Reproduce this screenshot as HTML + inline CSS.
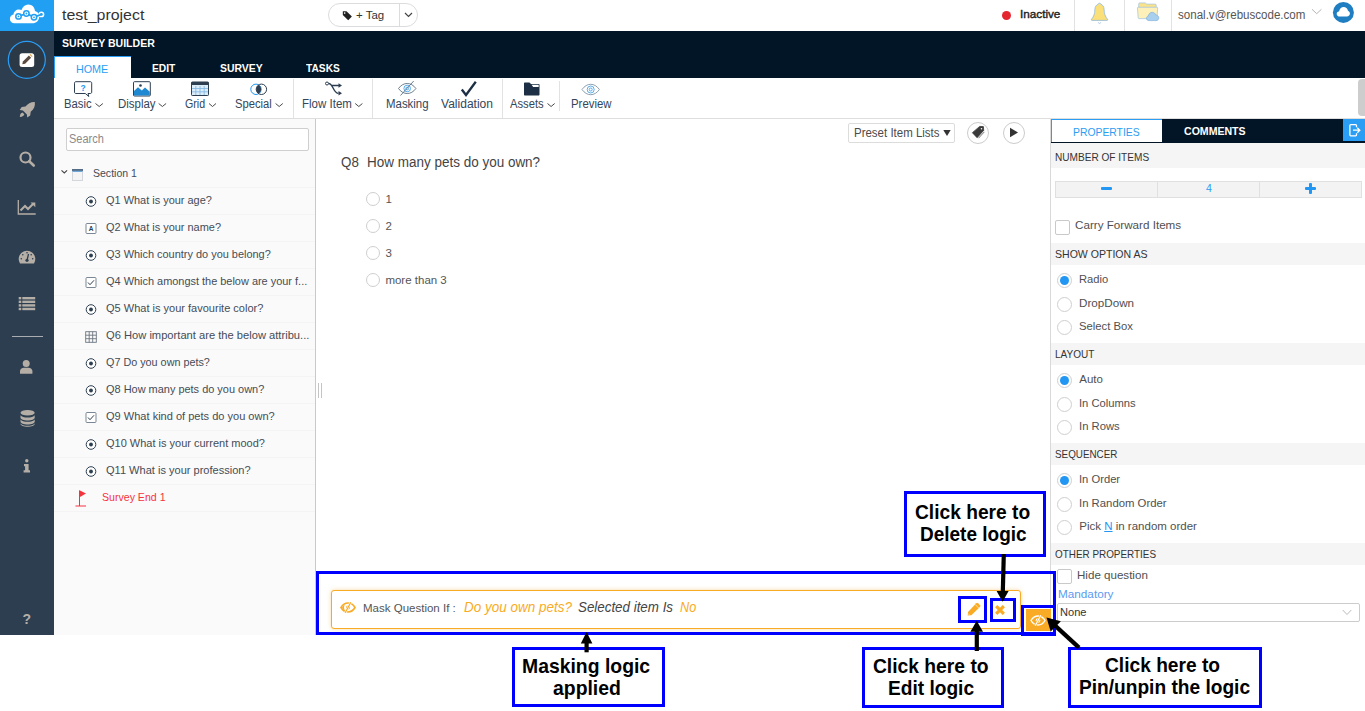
<!DOCTYPE html>
<html lang="en">
<head>
<meta charset="utf-8">
<title>Survey Builder</title>
<style>
*{box-sizing:border-box;margin:0;padding:0}
html,body{width:1365px;height:711px;overflow:hidden;background:#fff}
body{position:relative;font-family:"Liberation Sans",sans-serif;color:#333;font-size:12px}
.abs{position:absolute}
svg{position:absolute;overflow:visible}
.t{position:absolute;white-space:nowrap;line-height:1;transform-origin:0 0}
#logo{left:0;top:0;width:54px;height:31px;background:#21a0f3}
#side{left:0;top:31px;width:54px;height:604px;background:#2c3e50}
#dark{left:54px;top:31px;width:1311px;height:47px;background:#021526}
#tool{left:54px;top:78px;width:1311px;height:41px;background:#fff;border-bottom:1px solid #dedede}
#left{left:54px;top:119px;width:262px;height:516px;background:#fafafa;border-right:1px solid #c9c9c9}
#right{left:1050px;top:119px;width:315px;height:516px;background:#fff;border-left:1px solid #d9d9d9}
.sec{position:absolute;left:1051px;width:314px;height:22px;background:#f5f5f5}
.rad{position:absolute;width:15px;height:15px;border:1px solid #cfcfcf;border-radius:50%;background:#fff}
.rad.on::after{content:"";position:absolute;left:1.8px;top:1.8px;width:9.4px;height:9.4px;border-radius:50%;background:#2196f3}
.chk{position:absolute;width:15px;height:15px;border:1px solid #c9c9c9;border-radius:2px;background:#fff}
.rowl{position:absolute;left:54px;width:261px;height:1px;background:#f4f4f4}
.ann{position:absolute;border:3px solid #0000ff;background:#fff}
.box{position:absolute;border:3px solid #0000ff}
.vsep{position:absolute;width:1px;background:#e2e2e2}
</style>
</head>
<body>
<div id="logo" class="abs"></div>
<div id="side" class="abs"></div>
<div id="dark" class="abs"></div>
<div id="tool" class="abs"></div>
<div id="left" class="abs"></div>
<div id="right" class="abs"></div>

<!-- LOGO -->
<svg style="left:0;top:0" width="54" height="31" viewBox="0 0 54 31">
<path d="M14.500 23.200c-2.700 0-4.600-1.900-4.600-4.300 0-2.200 1.500-3.900 3.600-4.300.3-3.200 2.600-5.200 5.600-5.200.9 0 1.700.2 2.400.6 1.200-3 3.600-5.400 6.800-5.400 3.700 0 6.400 2.800 6.700 6.500 2.400.5 4.200 2.600 4.200 5.200 0 3.900-2.600 6.900-5.800 6.900z" fill="#fff"/>
<path d="M36 16.600l5.400-2.200" stroke="#fff" stroke-width="2.600" fill="none"/>
<circle cx="41.400" cy="14.400" r="2.900" fill="#fff"/>
<path d="M18.500 16.400l8-2.900 7.500 3.800 7.400-2.900" fill="none" stroke="#21a0f3" stroke-width="1.700" stroke-linejoin="round"/>
<circle cx="18.500" cy="16.400" r="2.700" fill="#fff" stroke="#21a0f3" stroke-width="1.500"/><circle cx="18.500" cy="16.400" r=".9" fill="#21a0f3"/>
<circle cx="26.400" cy="13.500" r="2.700" fill="#fff" stroke="#21a0f3" stroke-width="1.500"/><circle cx="26.400" cy="13.500" r=".9" fill="#21a0f3"/>
<circle cx="34" cy="17.300" r="2.700" fill="#fff" stroke="#21a0f3" stroke-width="1.500"/><circle cx="34" cy="17.300" r=".9" fill="#21a0f3"/>
<circle cx="41.400" cy="14.400" r="1.400" fill="#21a0f3"/>
</svg>

<!-- SIDEBAR ICONS -->
<svg style="left:0;top:31px" width="54" height="604" viewBox="0 31 54 604">
<g fill="#b5aea6">
<circle cx="26.800" cy="59.800" r="18.500" fill="#2b3846" stroke="#2a9df4" stroke-width="1.200"/>
<rect x="19.600" y="53.200" width="14.600" height="13.800" rx="2.500" fill="#fff"/>
<path d="M22.300 64.300l.6-2.800 6-6 2.200 2.200-6 6z" fill="#5a4a42"/><path d="M29.600 54.800l.8-.8 2.200 2.200-.8.800z" fill="#e8a33d"/>
<!-- rocket -->
<path d="M34.800 102c-3.500-.3-7 1.300-9.300 4.600l-3.800.5-2 3 3.200.3 4 4 .3 3.200 3-2 .5-3.800c3.300-2.300 4.700-6 4.100-9.800zM22.500 112.500c-1.500.3-2.500 1.500-2.700 4.500 3-.2 4.200-1.200 4.500-2.700z"/>
<!-- search -->
<circle cx="25.500" cy="157.500" r="5" fill="none" stroke="#b5aea6" stroke-width="2.200"/><path d="M29.200 161.200l4.500 4.300" stroke="#b5aea6" stroke-width="2.600" stroke-linecap="round"/>
<!-- chart -->
<path d="M18.300 200v14h17.400" fill="none" stroke="#b5aea6" stroke-width="1.300"/><path d="M20.500 210.500l4.500-4.500 3 3 5-5" fill="none" stroke="#b5aea6" stroke-width="2"/><path d="M30.500 202.500h4.800v4.800z"/>
<!-- tachometer -->
<path d="M20 263.500a8.300 8.300 0 1 1 14 0z"/>
<path d="M27 260.500l1.500-6.500" stroke="#2c3e50" stroke-width="1.300"/><circle cx="27" cy="260.300" r="1.600" fill="#2c3e50"/>
<g fill="#2c3e50"><circle cx="21.300" cy="258.800" r=".8"/><circle cx="22.800" cy="254.800" r=".8"/><circle cx="32.700" cy="258.800" r=".8"/><circle cx="31.200" cy="254.800" r=".8"/><circle cx="27" cy="252.800" r=".8"/></g>
<!-- list -->
<g><rect x="18.700" y="297" width="2.600" height="2.400"/><rect x="22.300" y="297" width="12.900" height="2.400"/><rect x="18.700" y="300.600" width="2.600" height="2.400"/><rect x="22.300" y="300.600" width="12.900" height="2.400"/><rect x="18.700" y="304.200" width="2.600" height="2.400"/><rect x="22.300" y="304.200" width="12.900" height="2.400"/><rect x="18.700" y="307.800" width="2.600" height="2.400"/><rect x="22.300" y="307.800" width="12.900" height="2.400"/></g>
<rect x="12" y="336" width="31" height="1" fill="#a9adb1"/>
<!-- user -->
<circle cx="26.200" cy="363.500" r="3.500"/><path d="M20 373.800v-2.500c0-2.300 1.800-3.600 3.800-3.600h4.800c2 0 3.800 1.300 3.800 3.600v2.500z"/>
<!-- database -->
<ellipse cx="27.600" cy="412.800" rx="7.100" ry="2.800"/>
<path d="M20.500 415.300c1 1.500 3.800 2.300 7.100 2.300s6.100-.8 7.100-2.300v2.400c0 1.500-3.200 2.700-7.100 2.700s-7.100-1.200-7.100-2.700zM20.500 419.400c1 1.500 3.800 2.300 7.100 2.300s6.100-.8 7.100-2.300v2.400c0 1.500-3.200 2.700-7.100 2.700s-7.100-1.200-7.100-2.700zM20.500 423.500c1 1.500 3.800 2.300 7.100 2.300s6.100-.8 7.100-2.300v.500c0 1.500-3.200 2.700-7.100 2.700s-7.100-1.200-7.100-2.700z"/>
<!-- info -->
<circle cx="26.800" cy="460.700" r="1.700"/><path d="M24 464h4.600v6.300h1.400v2.200h-6.400v-2.200h1.500v-4.100h-1.100z"/>
</g>
</svg>
<div class="t" style="left:22.500px;top:611.500px;font-size:14px;font-weight:bold;color:#b5aea6">?</div>

<!-- HEADER -->
<div class="abs" style="left:328px;top:3px;width:90px;height:24px;border:1px solid #dcdcdc;border-radius:12px;background:#fff"></div>
<div class="abs" style="left:399px;top:4px;width:1px;height:22px;background:#dcdcdc"></div>
<svg style="left:342px;top:10px" width="11" height="11" viewBox="0 0 11 11"><path d="M.8 1.200h3.700l5.400 5.400-3.700 3.700-5.400-5.400z" fill="#222"/><circle cx="2.700" cy="3.100" r=".8" fill="#fff"/></svg>
<svg style="left:404px;top:12px" width="9" height="6" viewBox="0 0 9 6"><path d="M1 1l3.500 3.500 3.500-3.500" fill="none" stroke="#444" stroke-width="1.200"/></svg>
<div class="abs" style="left:1002px;top:10.500px;width:9px;height:9px;border-radius:50%;background:#e3262f"></div>
<div class="vsep" style="left:1074px;top:0;height:31px"></div>
<div class="vsep" style="left:1124px;top:0;height:31px"></div>
<div class="vsep" style="left:1171px;top:0;height:31px"></div>
<!-- bell -->
<svg style="left:1089px;top:0" width="22" height="28" viewBox="1089 0 22 28">
<path d="M1099.500 3.200c.7 0 1.100.4 1.200 1 2.200.7 3.300 2.600 3.400 5.300.1 4.200 1 6.900 3.500 9.900.3.500.1 1-.5 1h-15.200c-.6 0-.8-.5-.5-1 2.500-3 3.400-5.700 3.500-9.900.1-2.700 1.200-4.600 3.400-5.300.1-.6.500-1 1.200-1z" fill="#fbe07a" stroke="#8fb8dc" stroke-width=".8"/>
<path d="M1098.300 22.300c.2.800.6 1.300 1.200 1.300s1-.5 1.200-1.300" fill="none" stroke="#9dbfdd" stroke-width=".8"/>
</svg>
<!-- folder + cloud -->
<svg style="left:1136px;top:0" width="25" height="24" viewBox="1136 0 25 24">
<path d="M1138.700 7.500v-3.600c0-.6.400-1 1-1h5.700l1.300 1.200h8.500c.6 0 1 .4 1 1v2.400z" fill="#fbe38a" stroke="#9fc3e2" stroke-width=".7"/>
<path d="M1137.400 8c0-.5.300-.8.800-.8h18.700c.5 0 .8.300.8.800l-.7 9.800c0 .5-.3.800-.8.800h-17.200c-.5 0-.8-.3-.8-.8z" fill="#fdf0b8" stroke="#9fc3e2" stroke-width=".7"/>
<path d="M1149 20.600c-1.500 0-2.600-1-2.600-2.300 0-1.200.800-2.100 2-2.300.3-2.200 1.800-3.700 3.800-3.700 1.700 0 3.100 1.100 3.600 2.700 1.700.1 3 1.400 3 2.900 0 1.500-1.200 2.700-2.800 2.700z" fill="#a8d0ee" stroke="#7fb2dd" stroke-width=".7"/>
</svg>
<svg style="left:1311px;top:8px" width="12" height="7" viewBox="0 0 12 7"><path d="M1 1.300l4.700 4.400 4.700-4.400" fill="none" stroke="#b5b5b5" stroke-width="1"/></svg>
<!-- avatar -->
<svg style="left:1331px;top:0" width="25" height="25" viewBox="1331 0 25 25"><circle cx="1343.400" cy="12.400" r="10.500" fill="#1f7ec2"/>
<path d="M1339.700 16.500c-1.700 0-3-1.100-3-2.600 0-1.300.9-2.300 2.100-2.500.2-.1.300-.2.400-.4.600-2.300 2.300-3.900 4.500-3.900 2.100 0 3.700 1.400 4.200 3.500.1.200.2.300.4.400 1 .5 1.600 1.500 1.600 2.600 0 1.700-1.300 2.900-3 2.900z" fill="#fff"/></svg>

<!-- DARK BAR / TABS -->
<div class="abs" style="left:54px;top:56px;width:77px;height:22px;background:#fff;border-top:1px solid #2a9df4;border-left:1px solid #2a9df4"></div>

<!-- TOOLBAR -->
<div class="vsep" style="left:293px;top:79px;height:39px"></div>
<div class="vsep" style="left:372px;top:79px;height:39px"></div>
<div class="vsep" style="left:502px;top:79px;height:39px"></div>
<div class="vsep" style="left:559px;top:81px;height:30px"></div>
<div class="abs" style="left:1358px;top:79px;width:8px;height:37px;background:#cdcdcd;border-radius:4px 0 0 4px"></div>
<svg style="left:54px;top:78px" width="600" height="40" viewBox="54 78 600 40">
<g fill="none" stroke="#4a4a4a" stroke-width="1">
<!-- chevrons -->
<path d="M95.500 103.500l3.700 3 3.700-3M158.700 103.500l3.700 3 3.700-3M209 103.500l3.500 3 3.500-3M275.600 103.500l3.600 3 3.600-3M355.200 103.500l3.600 3 3.600-3M547.500 103.500l3.600 3 3.600-3"/>
</g>
<!-- Basic -->
<path d="M76 81.700h14.200c1 0 1.500.5 1.500 1.500v8.800c0 1-.5 1.500-1.500 1.500h-2.200l.8 3-3.500-3h-9.300c-1 0-1.500-.5-1.500-1.500v-8.800c0-1 .5-1.500 1.500-1.500z" fill="#fff" stroke="#2c3e50" stroke-width="1"/>
<text x="83" y="91" font-family="Liberation Sans,sans-serif" font-size="8.500" font-weight="bold" fill="#2196f3" text-anchor="middle">?</text>
<!-- Display -->
<rect x="133.500" y="81.700" width="16.800" height="14.300" rx="1" fill="#fff" stroke="#2c3e50" stroke-width="1"/>
<path d="M134 95.500v-4.500l4-3.800 3.800 3.300 3.200-3 4.800 4.300v3.700z" fill="#1e88d2"/>
<circle cx="140.500" cy="85.500" r="1.300" fill="#2c3e50"/>
<!-- Grid -->
<rect x="191.500" y="82" width="17" height="13.500" rx=".8" fill="#dcecf8" stroke="#2c3e50" stroke-width="1"/>
<rect x="191.500" y="82" width="17" height="3" fill="#2c3e50"/>
<path d="M195.800 86v9M200 86v9M204.200 86v9M192 88.500h16M192 91.800h16" stroke="#7fb6e2" stroke-width=".8"/>
<!-- Special -->
<circle cx="256" cy="89.300" r="5.200" fill="#fff" stroke="#2196f3" stroke-width="1"/>
<circle cx="261.400" cy="89.300" r="5.200" fill="none" stroke="#2c3e50" stroke-width="1"/>
<path d="M258.700 84.900a5.200 5.200 0 0 1 0 8.800a5.200 5.200 0 0 1 0-8.800z" fill="#2c3e50"/>
<!-- Flow -->
<g fill="none" stroke="#2c3e50" stroke-width="1.400"><path d="M328.500 83.500c5 0 4.500 9.800 10 9.800M332 85.500h7"/></g>
<circle cx="327" cy="83.500" r="1.500" fill="#fff" stroke="#2c3e50" stroke-width="1"/>
<path d="M338.500 83.300l3.500 2.200-3.500 2.200zM338.500 91.100l3.500 2.200-3.500 2.200z" fill="#2c3e50"/>
<!-- Masking -->
<g fill="none" stroke="#5d7285" stroke-width=".9"><path d="M398.500 88.500c2.500-3.500 5.500-5 8.700-5s6.200 1.500 8.700 5c-2.500 3.500-5.500 5-8.700 5s-6.200-1.500-8.700-5z"/><circle cx="407.200" cy="88.500" r="3.300" stroke="#4aa3e8"/><circle cx="407.200" cy="88.500" r="1.400" stroke="#4aa3e8"/><path d="M400.500 95.500l13.200-14.500"/></g>
<!-- Validation -->
<path d="M461.800 89.500l4.200 5.500 9.800-13.200" fill="none" stroke="#1d2f45" stroke-width="2.300"/>
<!-- Assets -->
<path d="M524 83.500c0-.6.400-1 1-1h4.500l1.500 1.500h7.500c.6 0 1 .4 1 1v9.400c0 .6-.4 1-1 1h-13.500c-.6 0-1-.4-1-1z" fill="#1d2f45"/>
<path d="M531.500 84.800h7.200v2.200h-5.500z" fill="#fff"/>
<!-- Preview -->
<g fill="none" stroke="#7f95a8" stroke-width=".9"><path d="M582 89.500c2.500-3.500 5.500-5.200 8.700-5.200s6.200 1.700 8.700 5.200c-2.500 3.500-5.500 5.200-8.700 5.200s-6.200-1.700-8.700-5.200z"/><circle cx="590.700" cy="89.500" r="3.500" stroke="#4aa3e8"/><circle cx="590.700" cy="89.500" r="1.500" stroke="#4aa3e8"/></g>
</svg>

<!-- LEFT PANEL -->
<div class="abs" style="left:66px;top:128px;width:243px;height:23px;border:1px solid #cfcfcf;border-radius:2px;background:#fff"></div>
<div class="rowl" style="top:187px"></div><div class="rowl" style="top:214px"></div><div class="rowl" style="top:241px"></div><div class="rowl" style="top:268px"></div><div class="rowl" style="top:295px"></div><div class="rowl" style="top:322px"></div><div class="rowl" style="top:349px"></div><div class="rowl" style="top:376px"></div><div class="rowl" style="top:403px"></div><div class="rowl" style="top:430px"></div><div class="rowl" style="top:457px"></div><div class="rowl" style="top:484px"></div><div class="rowl" style="top:511px"></div>
<svg style="left:54px;top:118px" width="262" height="517" viewBox="54 118 262 517">
<path d="M61.500 170.300l2.800 2.600 2.800-2.600" fill="none" stroke="#444" stroke-width="1.100"/>
<rect x="72.500" y="169.700" width="10" height="10.800" fill="#f4f4f4" stroke="#d3d6da" stroke-width="1"/><rect x="72" y="169.200" width="11" height="1.600" fill="#34506e"/><rect x="72.500" y="170.800" width="10" height="1.200" fill="#6fa8dc"/>
</svg>
<svg style="left:54px;top:118px" width="262" height="517" viewBox="54 118 262 517">
<g fill="#fff" stroke="#2c3e50" stroke-width="1">
<circle cx="91" cy="201.500" r="4.800"/><circle cx="91" cy="255.500" r="4.800"/><circle cx="91" cy="309.500" r="4.800"/><circle cx="91" cy="363.500" r="4.800"/><circle cx="91" cy="390.500" r="4.800"/><circle cx="91" cy="444.500" r="4.800"/><circle cx="91" cy="471.500" r="4.800"/>
</g>
<g fill="#2c3e50">
<circle cx="91" cy="201.500" r="1.900"/><circle cx="91" cy="255.500" r="1.900"/><circle cx="91" cy="309.500" r="1.900"/><circle cx="91" cy="363.500" r="1.900"/><circle cx="91" cy="390.500" r="1.900"/><circle cx="91" cy="444.500" r="1.900"/><circle cx="91" cy="471.500" r="1.900"/>
</g>
<!-- text icon Q2 -->
<rect x="86" y="223.500" width="10" height="10" rx="1" fill="#fff" stroke="#7b8794" stroke-width="1"/>
<text x="91" y="231.300" font-family="Liberation Sans,sans-serif" font-size="6.500" font-weight="bold" fill="#2c3e50" text-anchor="middle">A</text>
<!-- checkbox icons Q4, Q9 -->
<rect x="86" y="277.500" width="10" height="10" rx="1" fill="#fff" stroke="#7b8794" stroke-width="1"/><path d="M88 282.500l2 2.200 4-4.400" fill="none" stroke="#2c3e50" stroke-width="1"/>
<rect x="86" y="412.500" width="10" height="10" rx="1" fill="#fff" stroke="#7b8794" stroke-width="1"/><path d="M88 417.500l2 2.200 4-4.400" fill="none" stroke="#2c3e50" stroke-width="1"/>
<!-- grid icon Q6 -->
<g fill="none" stroke="#6b7580" stroke-width=".9"><rect x="85.700" y="331.700" width="10.600" height="10.600"/><path d="M89.200 331.700v10.600M92.700 331.700v10.600M85.700 335.200h10.600M85.700 338.700h10.600"/></g>
<!-- flag -->
<path d="M79.500 490.500v15.500M75.500 506h10.500" stroke="#f5333f" stroke-width="1" fill="none"/><path d="M79.500 490.300l6.500 3.200-6.500 3.700z" fill="#f5333f"/>
</svg>
<!-- splitter -->
<div class="abs" style="left:318px;top:383px;width:1px;height:15px;background:#c4c4c4"></div>
<div class="abs" style="left:321px;top:383px;width:1px;height:15px;background:#c4c4c4"></div>

<!-- MAIN -->
<div class="rad" style="left:366px;top:191.600px;width:14px;height:14px"></div>
<div class="rad" style="left:366px;top:218.500px;width:14px;height:14px"></div>
<div class="rad" style="left:366px;top:245.500px;width:14px;height:14px"></div>
<div class="rad" style="left:366px;top:272.500px;width:14px;height:14px"></div>
<div class="abs" style="left:848px;top:123px;width:107px;height:20px;border:1px solid #dcdcdc;border-radius:2px;background:#fff"></div>
<svg style="left:943px;top:129px" width="8" height="8" viewBox="0 0 8 8"><path d="M.3 1h7.400l-3.700 6z" fill="#333"/></svg>
<div class="abs" style="left:967px;top:121.500px;width:22px;height:22px;border:1px solid #ccc;border-radius:50%;background:#fff"></div>
<div class="abs" style="left:1003px;top:121.500px;width:22px;height:22px;border:1px solid #ccc;border-radius:50%;background:#fff"></div>
<svg style="left:967px;top:121px" width="23" height="23" viewBox="967 121 23 23"><path d="M972.400 132.700l7.300-6.300 3.700.2.300 3.800-6.600 7.300z" fill="#3a3a3a" stroke="#3a3a3a" stroke-width=".8" stroke-linejoin="round"/><circle cx="981.500" cy="128.700" r=".8" fill="#fff"/><path d="M978.500 138.200l5.800-6.300" stroke="#3a3a3a" stroke-width=".7" fill="none"/></svg>
<svg style="left:1009px;top:127px" width="10" height="11" viewBox="0 0 10 11"><path d="M1 .8l8 4.700-8 4.700z" fill="#333"/></svg>

<!-- RIGHT PANEL -->
<div class="abs" style="left:1051px;top:119px;width:314px;height:24px;background:#021526"></div>
<div class="abs" style="left:1051px;top:119px;width:111px;height:23px;background:#fff;border-top:1px solid #2a9df4;border-left:1px solid #2a9df4"></div>
<div class="abs" style="left:1343px;top:119px;width:22px;height:22px;background:#2a9df4"></div>
<svg style="left:1348.500px;top:124px" width="12" height="13" viewBox="0 0 12 13"><path d="M7.500 3.200v-1.700c0-.5-.3-.8-.8-.8h-5c-.5 0-.8.300-.8.800v9.500c0 .5.300.8.800.8h5c.5 0 .8-.3.8-.8v-1.700" fill="none" stroke="#fff" stroke-width="1.300"/><path d="M4 6.200h6.500M8.300 3.700l2.500 2.500-2.500 2.500" fill="none" stroke="#fff" stroke-width="1.300"/></svg>

<div class="sec" style="top:143px;height:25px"></div>
<div class="abs" style="left:1055px;top:181px;width:307px;height:17px;background:#f3f3f3;border:1px solid #e0e0e0"></div>
<div class="abs" style="left:1157px;top:181px;width:1px;height:17px;background:#e0e0e0"></div>
<div class="abs" style="left:1259px;top:181px;width:1px;height:17px;background:#e0e0e0"></div>
<div class="abs" style="left:1100.500px;top:186.500px;width:11.500px;height:3px;border-radius:1px;background:#2196f3"></div>
<div class="abs" style="left:1305px;top:187px;width:11px;height:3px;border-radius:1px;background:#2196f3"></div>
<div class="abs" style="left:1309px;top:183px;width:3px;height:11px;border-radius:1px;background:#2196f3"></div>
<div class="chk" style="left:1055px;top:220px"></div>

<div class="sec" style="top:243px"></div>
<div class="rad on" style="left:1057px;top:273px"></div>
<div class="rad" style="left:1057px;top:296.500px"></div>
<div class="rad" style="left:1057px;top:320px"></div>
<div class="sec" style="top:343px"></div>
<div class="rad on" style="left:1057px;top:373px"></div>
<div class="rad" style="left:1057px;top:396.500px"></div>
<div class="rad" style="left:1057px;top:420px"></div>
<div class="sec" style="top:443px"></div>
<div class="rad on" style="left:1057px;top:473px"></div>
<div class="rad" style="left:1057px;top:496.500px"></div>
<div class="rad" style="left:1057px;top:520px"></div>
<div class="sec" style="top:543px"></div>
<div class="chk" style="left:1057px;top:569px"></div>
<div class="abs" style="left:1057px;top:603px;width:303px;height:19px;border:1px solid #ccc;border-radius:2px;background:#fff"></div>
<svg style="left:1342px;top:609px" width="10" height="7" viewBox="0 0 10 7"><path d="M.7 1l4.300 4.500 4.300-4.500" fill="none" stroke="#bbb" stroke-width="1"/></svg>

<!-- MASK BAR -->
<div class="abs" style="left:331px;top:590px;width:690px;height:39px;border:1px solid #f9ab25;border-radius:3px;background:#fff;box-shadow:0 0 4px rgba(245,166,35,.4)"></div>
<svg style="left:340px;top:601px" width="16" height="13" viewBox="0 0 16 13"><g id="es"><path d="M1 6.500c1.700-3 4-4.500 7-4.500s5.300 1.500 7 4.500c-1.700 3-4 4.500-7 4.500s-5.300-1.500-7-4.500z" fill="none" stroke="#f9ab25" stroke-width="1.600"/><path d="M8 2.500a4 4 0 0 0 0 8c-2.500 0-4.500-1.300-6-4 1.500-2.700 3.500-4 6-4z" fill="#f9ab25"/><circle cx="8" cy="6.500" r="2" fill="#f9ab25"/><path d="M5.200 11.800l5.600-10.600" stroke="#fff" stroke-width="2.400"/><path d="M5.200 11.800l5.600-10.600" stroke="#f9ab25" stroke-width="1.200"/></g></svg>
<svg style="left:967px;top:602px" width="14" height="14" viewBox="0 0 14 14"><path d="M.7 13.500l.3-3.600 8.200-8.600q.9-.9 1.800-.1l2 2q.8.900-.1 1.800l-8.600 8.200z" fill="#f9ab25"/><path d="M8.300 2.600l3.400 3.400" stroke="#fff" stroke-width=".6"/><path d="M1.200 11.600l1.500 1.500" stroke="#fff" stroke-width=".5"/></svg>
<svg style="left:994px;top:603.600px" width="12" height="12" viewBox="0 0 12 12"><path d="M2.200 2.200l7.600 7.600M9.800 2.200l-7.600 7.600" stroke="#f9ab25" stroke-width="3.200"/></svg>
<div class="abs" style="left:1026px;top:609px;width:25px;height:22px;background:#f9ab25"></div>
<svg style="left:1030px;top:614px" width="16" height="13" viewBox="0 0 16 13"><path d="M1 6.500c1.700-3 4-4.500 7-4.500s5.300 1.500 7 4.500c-1.700 3-4 4.500-7 4.500s-5.300-1.500-7-4.500z" fill="none" stroke="#fff" stroke-width="1.400"/><circle cx="8" cy="6.500" r="2.300" fill="#fff"/><path d="M5.200 11.800l5.600-10.600" stroke="#f9ab25" stroke-width="2.400"/><path d="M5.200 11.800l5.600-10.600" stroke="#fff" stroke-width="1.200"/></svg>

<!-- ANNOTATIONS -->
<div class="box" style="left:316px;top:571px;width:740px;height:64px"></div>
<div class="box" style="left:958px;top:596px;width:29px;height:27px"></div>
<div class="box" style="left:990px;top:598px;width:26px;height:24px"></div>
<div class="box" style="left:1021px;top:605px;width:35px;height:31px"></div>
<div class="ann" style="left:904px;top:491px;width:142px;height:66px"></div>
<div class="ann" style="left:512px;top:647px;width:153px;height:60px"></div>
<div class="ann" style="left:862px;top:647px;width:142px;height:61px"></div>
<div class="ann" style="left:1068px;top:647px;width:194px;height:61px"></div>
<svg style="left:0;top:0" width="1365" height="711" viewBox="0 0 1365 711">
<g stroke="#000" stroke-width="4.200" fill="#000">
<path d="M1003.800 554l-1 38"/><path d="M1002.600 601.800l-6-10.800h12z" stroke="none"/>
<path d="M976.800 651v-20"/><path d="M976.700 620.800l-6.300 11h12.600z" stroke="none"/>
<path d="M586.600 652.300v-9.500"/><path d="M586.600 632l-5.800 11.500h11.600z" stroke="none"/>
<path d="M1079 647.600l-25-23"/><path d="M1046.500 617.500l4.200 14 10.200-10.200z" stroke="none"/>
</g>
</svg>

<div class="t" style="left:61.6px;top:7.1px;font-size:15.5px;color:#333;transform:scaleX(1.028);">test_project</div>
<div class="t" style="left:355.9px;top:9.7px;font-size:11.3px;color:#333;transform:scaleX(1.016);">+ Tag</div>
<div class="t" style="left:1020px;top:9.3px;font-size:11.5px;color:#222;transform:scaleX(1.019);-webkit-text-stroke:.4px #222;">Inactive</div>
<div class="t" style="left:1177.5px;top:8.7px;font-size:12.5px;color:#555;transform:scaleX(0.925);">sonal.v@rebuscode.com</div>
<div class="t" style="left:61.6px;top:37.8px;font-size:11px;color:#fff;font-weight:bold;transform:scaleX(0.959);">SURVEY BUILDER</div>
<div class="t" style="left:75.9px;top:63.6px;font-size:10.8px;color:#2a9df4;">HOME</div>
<div class="t" style="left:152.2px;top:63.1px;font-size:11px;color:#fff;font-weight:bold;transform:scaleX(0.930);">EDIT</div>
<div class="t" style="left:219.6px;top:63.1px;font-size:11px;color:#fff;font-weight:bold;transform:scaleX(0.948);">SURVEY</div>
<div class="t" style="left:306.1px;top:63.1px;font-size:11px;color:#fff;font-weight:bold;transform:scaleX(0.927);">TASKS</div>
<div class="t" style="left:64.4px;top:97.6px;font-size:12.3px;color:#34465a;transform:scaleX(0.918);">Basic</div>
<div class="t" style="left:117.7px;top:97.6px;font-size:12.3px;color:#34465a;transform:scaleX(0.930);">Display</div>
<div class="t" style="left:184.8px;top:97.6px;font-size:12.3px;color:#34465a;transform:scaleX(0.865);">Grid</div>
<div class="t" style="left:235.2px;top:97.6px;font-size:12.3px;color:#34465a;transform:scaleX(0.912);">Special</div>
<div class="t" style="left:302.4px;top:97.6px;font-size:12.3px;color:#34465a;transform:scaleX(0.936);">Flow Item</div>
<div class="t" style="left:386px;top:97.6px;font-size:12.3px;color:#34465a;transform:scaleX(0.930);">Masking</div>
<div class="t" style="left:441.4px;top:97.6px;font-size:12.3px;color:#34465a;transform:scaleX(0.979);">Validation</div>
<div class="t" style="left:510px;top:97.6px;font-size:12.3px;color:#34465a;transform:scaleX(0.913);">Assets</div>
<div class="t" style="left:571px;top:97.6px;font-size:12.3px;color:#34465a;transform:scaleX(0.926);">Preview</div>
<div class="t" style="left:68.9px;top:132.5px;font-size:12px;color:#8a8a8a;transform:scaleX(0.915);">Search</div>
<div class="t" style="left:92.6px;top:167.8px;font-size:11.5px;color:#454c56;transform:scaleX(0.915);">Section 1</div>
<div class="t" style="left:105.8px;top:194.6px;font-size:11.5px;color:#454c56;transform:scaleX(0.952);">Q1 What is your age?</div>
<div class="t" style="left:105.8px;top:221.6px;font-size:11.5px;color:#454c56;transform:scaleX(0.952);">Q2 What is your name?</div>
<div class="t" style="left:105.8px;top:248.6px;font-size:11.5px;color:#454c56;transform:scaleX(0.951);">Q3 Which country do you belong?</div>
<div class="t" style="left:105.8px;top:275.6px;font-size:11.5px;color:#454c56;transform:scaleX(0.951);">Q4 Which amongst the below are your f...</div>
<div class="t" style="left:105.8px;top:302.6px;font-size:11.5px;color:#454c56;transform:scaleX(0.958);">Q5 What is your favourite color?</div>
<div class="t" style="left:105.8px;top:329.6px;font-size:11.5px;color:#454c56;transform:scaleX(0.970);">Q6 How important are the below attribu...</div>
<div class="t" style="left:105.8px;top:356.6px;font-size:11.5px;color:#454c56;transform:scaleX(0.939);">Q7 Do you own pets?</div>
<div class="t" style="left:105.8px;top:383.6px;font-size:11.5px;color:#454c56;transform:scaleX(0.952);">Q8 How many pets do you own?</div>
<div class="t" style="left:105.8px;top:410.6px;font-size:11.5px;color:#454c56;transform:scaleX(0.960);">Q9 What kind of pets do you own?</div>
<div class="t" style="left:105.8px;top:437.6px;font-size:11.5px;color:#454c56;transform:scaleX(0.956);">Q10 What is your current mood?</div>
<div class="t" style="left:105.8px;top:464.6px;font-size:11.5px;color:#454c56;transform:scaleX(0.960);">Q11 What is your profession?</div>
<div class="t" style="left:101.5px;top:491.6px;font-size:11.5px;color:#f5333f;transform:scaleX(0.920);">Survey End 1</div>
<div class="t" style="left:341.2px;top:155.4px;font-size:14px;color:#444;transform:scaleX(0.953);">Q8</div>
<div class="t" style="left:366.5px;top:155.4px;font-size:14px;color:#444;transform:scaleX(0.963);">How many pets do you own?</div>
<div class="t" style="left:385.4px;top:193.9px;font-size:11.5px;color:#555;">1</div>
<div class="t" style="left:385.4px;top:220.9px;font-size:11.5px;color:#555;">2</div>
<div class="t" style="left:385.4px;top:247.9px;font-size:11.5px;color:#555;">3</div>
<div class="t" style="left:385.4px;top:274.9px;font-size:11.5px;color:#555;">more than 3</div>
<div class="t" style="left:853.5px;top:126.8px;font-size:12px;color:#4a4a4a;transform:scaleX(0.957);">Preset Item Lists</div>
<div class="t" style="left:1073.3px;top:126.8px;font-size:11.2px;color:#2a9df4;transform:scaleX(0.927);">PROPERTIES</div>
<div class="t" style="left:1183.6px;top:126.2px;font-size:11.2px;color:#fff;font-weight:bold;transform:scaleX(0.944);">COMMENTS</div>
<div class="t" style="left:1054.8px;top:151.4px;font-size:11.6px;color:#333;transform:scaleX(0.870);">NUMBER OF ITEMS</div>
<div class="t" style="left:1206px;top:183.1px;font-size:10.5px;color:#2a9df4;">4</div>
<div class="t" style="left:1075px;top:219.6px;font-size:11.5px;color:#505050;transform:scaleX(1.013);">Carry Forward Items</div>
<div class="t" style="left:1054.6px;top:248.4px;font-size:11.6px;color:#333;transform:scaleX(0.910);">SHOW OPTION AS</div>
<div class="t" style="left:1079.3px;top:273.5px;font-size:11.5px;color:#505050;transform:scaleX(0.971);">Radio</div>
<div class="t" style="left:1079.3px;top:297.9px;font-size:11.5px;color:#505050;transform:scaleX(1.014);">DropDown</div>
<div class="t" style="left:1079.3px;top:321.1px;font-size:11.5px;color:#505050;transform:scaleX(0.980);">Select Box</div>
<div class="t" style="left:1054.6px;top:348.4px;font-size:11.6px;color:#333;transform:scaleX(0.865);">LAYOUT</div>
<div class="t" style="left:1079.3px;top:373.5px;font-size:11.5px;color:#505050;">Auto</div>
<div class="t" style="left:1079.3px;top:397.9px;font-size:11.5px;color:#505050;transform:scaleX(0.975);">In Columns</div>
<div class="t" style="left:1079.3px;top:421.1px;font-size:11.5px;color:#505050;transform:scaleX(0.980);">In Rows</div>
<div class="t" style="left:1054.6px;top:448.4px;font-size:11.6px;color:#333;transform:scaleX(0.850);">SEQUENCER</div>
<div class="t" style="left:1079.3px;top:473.5px;font-size:11.5px;color:#505050;transform:scaleX(0.974);">In Order</div>
<div class="t" style="left:1079.3px;top:497.9px;font-size:11.5px;color:#505050;transform:scaleX(0.986);">In Random Order</div>
<div class="t" style="left:1079.3px;top:521.1px;font-size:11.5px;color:#505050;">Pick <span style="color:#2196f3;text-decoration:underline">N</span> in random order</div>
<div class="t" style="left:1054.8px;top:548.2px;font-size:11.6px;color:#333;transform:scaleX(0.854);">OTHER PROPERTIES</div>
<div class="t" style="left:1076.6px;top:569.9px;font-size:11.5px;color:#505050;transform:scaleX(1.007);">Hide question</div>
<div class="t" style="left:1057.9px;top:588.9px;font-size:11.5px;color:#5b9bf0;transform:scaleX(1.021);">Mandatory</div>
<div class="t" style="left:1060.2px;top:606.5px;font-size:11.5px;color:#333;transform:scaleX(0.964);">None</div>
<div class="t" style="left:362.7px;top:603.2px;font-size:11.3px;color:#555;transform:scaleX(1.019);">Mask Question If :</div>
<div class="t" style="left:463.8px;top:601.2px;font-size:13.8px;color:#f9ab25;font-style:italic;transform:scaleX(0.977);">Do you own pets?</div>
<div class="t" style="left:578px;top:601.2px;font-size:13.8px;color:#444;font-style:italic;transform:scaleX(0.968);">Selected item Is</div>
<div class="t" style="left:679.8px;top:601.2px;font-size:13.8px;color:#f9ab25;font-style:italic;transform:scaleX(0.918);">No</div>
<div class="t" style="left:915.4px;top:503.3px;font-size:19.3px;color:#000;font-weight:bold;transform:scaleX(0.995);">Click here to</div>
<div class="t" style="left:920px;top:525.0px;font-size:19.3px;color:#000;font-weight:bold;transform:scaleX(0.985);">Delete logic</div>
<div class="t" style="left:522.4px;top:656.5px;font-size:19.3px;color:#000;font-weight:bold;transform:scaleX(1.005);">Masking logic</div>
<div class="t" style="left:553.4px;top:678.7px;font-size:19.3px;color:#000;font-weight:bold;transform:scaleX(1.006);">applied</div>
<div class="t" style="left:872.9px;top:656.7px;font-size:19.3px;color:#000;font-weight:bold;">Click here to</div>
<div class="t" style="left:887.8px;top:678.9px;font-size:19.3px;color:#000;font-weight:bold;transform:scaleX(0.992);">Edit logic</div>
<div class="t" style="left:1105.2px;top:656.3px;font-size:19.3px;color:#000;font-weight:bold;transform:scaleX(0.994);">Click here to</div>
<div class="t" style="left:1079px;top:678.3px;font-size:19.3px;color:#000;font-weight:bold;transform:scaleX(0.992);">Pin/unpin the logic</div>
</body>
</html>
